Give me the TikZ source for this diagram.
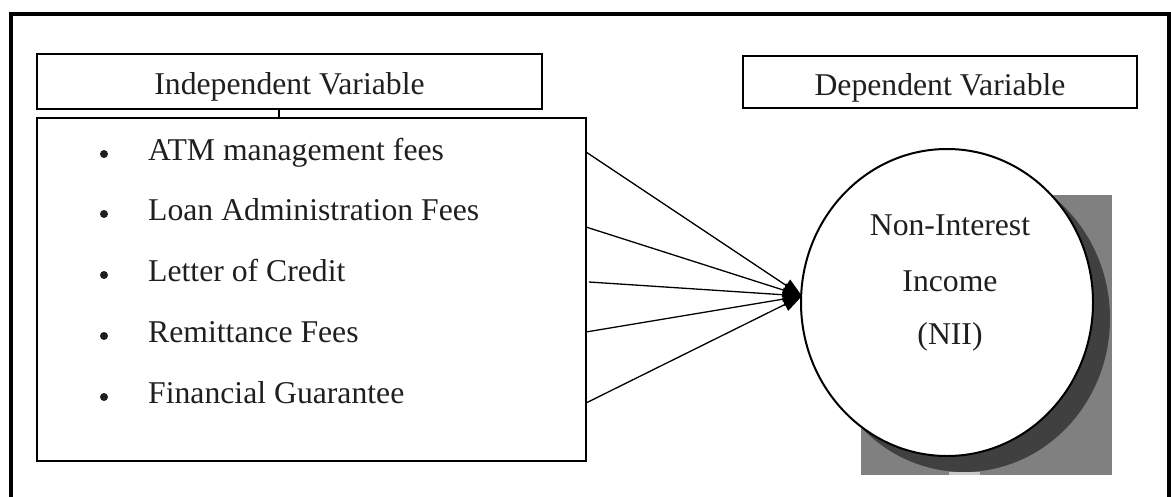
\documentclass[tikz,border=0pt]{standalone}
\usepackage{fontspec}
\setmainfont{Liberation Serif}
\usetikzlibrary{arrows.meta,shapes.geometric}
\definecolor{shadowmid}{HTML}{808080}
\definecolor{shadowdark}{HTML}{404040}
\definecolor{sliver}{HTML}{C8C8C8}
\begin{document}
\begin{tikzpicture}[x=1pt,y=-1pt,
  box/.style={draw,line width=1.6pt,inner sep=0pt},
  lbl/.style={font=\fontsize{31.7}{38}\selectfont,inner sep=0pt,anchor=base,text=black!88},
  item/.style={lbl,anchor=base west},
  conn/.style={line width=1.3pt,-{Triangle[length=19pt,width=14pt]}},
  dotmark/.style={circle,fill=black!88,inner sep=0pt,minimum size=8pt}]
\useasboundingbox (0,0) rectangle (1171,496);
\clip (0,0) rectangle (1171,496);
% outer frame
\draw[line width=4pt] (11,13.5) rectangle (1169,530);
% boxes
\node[box,minimum width=505pt,minimum height=55pt] (indep) at (289.5,81.5) {};
\node[box,minimum width=549pt,minimum height=343pt] (list) at (311.5,289.5) {};
\node[box,minimum width=394pt,minimum height=52pt] (dep) at (940,82) {};
\node[lbl] (indeptext) at (289.5,94) {Independent Variable};
\node[lbl] (deptext) at (940,95) {Dependent Variable};
\draw[line width=1.3pt] ([xshift=-10.5pt]indep.south) -- ([xshift=-10.5pt]indep.south |- list.north);
% list items
\node[dotmark] (b1) at (104,154) {};
\node[dotmark] (b2) at (104,214) {};
\node[dotmark] (b3) at (104,275) {};
\node[dotmark] (b4) at (104,336) {};
\node[dotmark] (b5) at (104,397) {};
\node[item] (i1) at (148,160) {ATM management fees};
\node[item] (i2) at (148,220.5) {Loan Administration Fees};
\node[item] (i3) at (148,281) {Letter of Credit};
\node[item] (i4) at (148,342) {Remittance Fees};
\node[item] (i5) at (148,403) {Financial Guarantee};
% shadow of the ellipse
\fill[shadowmid] (861,195) rectangle (1112,475);
\begin{scope}
  \clip (861,195) rectangle (1112,475);
  \fill[shadowdark] (964,318.5) ellipse [x radius=146, y radius=153.5];
\end{scope}
\fill[sliver] (949,471.5) rectangle (980,474.5);
% dependent ellipse
\node[ellipse,draw,line width=2pt,fill=white,inner sep=0pt,
      minimum width=292pt,minimum height=307pt] (nii) at (947,302.5) {};
\node[lbl] (nii1) at (950,235) {Non-Interest};
\node[lbl] (nii2) at (950,291) {Income};
\node[lbl] (nii3) at (950,344) {(NII)};
% connectors
\coordinate (tip) at (802,296);
\coordinate (s1) at (586,152);
\coordinate (s2) at (586,227);
\coordinate (s3) at (589,282);
\coordinate (s4) at (586,332);
\coordinate (s5) at (586,403);
\draw[conn] (s1) -- (tip);
\draw[conn] (s2) -- (tip);
\draw[conn] (s3) -- (tip);
\draw[conn] (s4) -- (tip);
\draw[conn] (s5) -- (tip);
\end{tikzpicture}
\end{document}
